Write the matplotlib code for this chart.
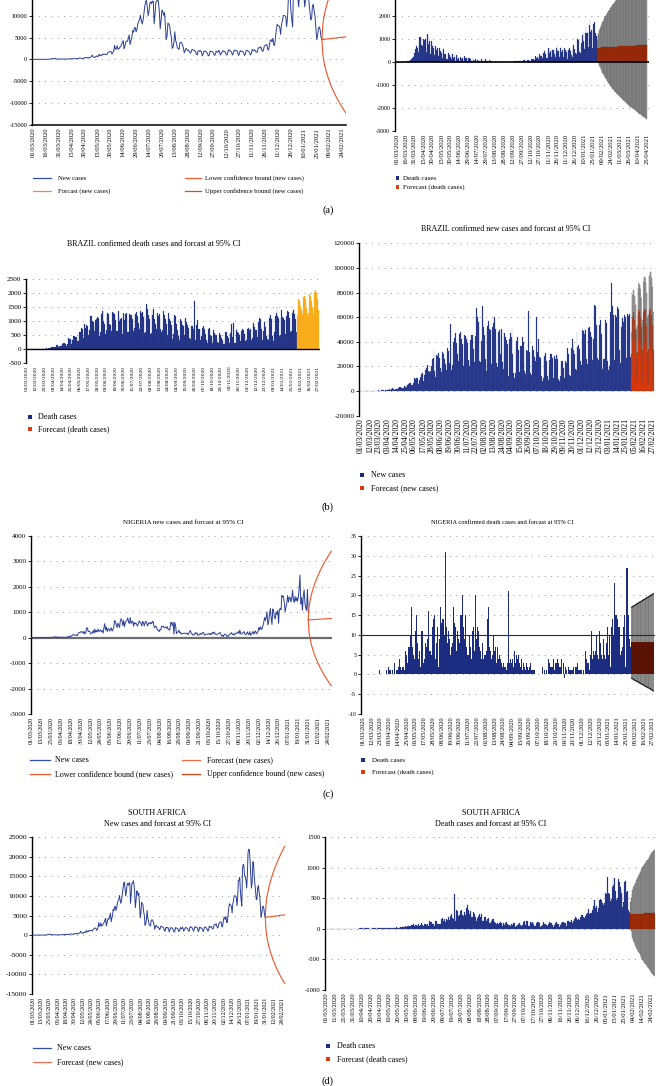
import datetime as dt
import numpy as np
import matplotlib
matplotlib.use("Agg")
import matplotlib.pyplot as plt
from matplotlib.lines import Line2D
from matplotlib.patches import Rectangle

plt.rcParams['font.family'] = ['Liberation Serif', 'DejaVu Serif']

START = dt.date(2020, 3, 1)

# ------------------------------------------------------------------ data
# South Africa daily new cases (panels a-left and d-left), 01/03/2020 .. 31/01/2021
sa_new_cases = [
    0, 0, 0, 0, 1, 1, 1,
    1, 3, 0, 6, 3, 3, 13,
    27, 11, 23, 30, 34, 48, 35,
    128, 152, 148, 155, 218, 243, 17,
    93, 71, 103, 82, 79, 83, 80,
    63, 69, 40, 62, 83, 96, 68,
    145, 99, 86, 178, 143, 99, 251,
    196, 124, 165, 201, 215, 318, 267,
    297, 183, 166, 354, 277, 385, 447,
    437, 267, 409, 424, 475, 663, 1000,
    595, 511, 426, 613, 818, 600, 740,
    1160, 767, 1000, 896, 1200, 1100, 1200,
    1200, 1050, 1100, 1500, 1600, 1800, 1800,
    1700, 1200, 1500, 1900, 3200, 2300, 2400,
    3100, 2300, 2400, 2700, 3000, 3300, 3800,
    4300, 2400, 3000, 4000, 4200, 4100, 4900,
    5600, 3400, 4300, 5000, 6600, 6200, 7200,
    7300, 6300, 6900, 8100, 8700, 9000, 10100,
    9000, 8100, 8800, 10300, 12000, 13100, 13500,
    12000, 10000, 11000, 12800, 13200, 12700, 13300,
    13300, 8100, 10300, 13100, 13200, 13900, 13000,
    11000, 7000, 8800, 11300, 11000, 10100, 10700,
    8000, 4500, 5400, 8300, 8100, 7700, 6000,
    5000, 2500, 2800, 3900, 6300, 4300, 3700,
    2600, 2500, 2300, 3800, 3900, 3800, 3300,
    2600, 1500, 2000, 2500, 2300, 2000, 2100,
    1800, 1400, 1700, 2300, 2200, 2100, 2000,
    1800, 1200, 1000, 1900, 2000, 1800, 2000,
    1600, 800, 1300, 1900, 1800, 1900, 1600,
    1300, 800, 900, 1900, 1800, 1800, 1700,
    1400, 900, 1100, 1900, 1700, 1600, 2100,
    1700, 1000, 1400, 1700, 2000, 1800, 1800,
    1500, 1000, 1100, 2000, 2200, 1900, 1900,
    1600, 1000, 1400, 2100, 2100, 1900, 2000,
    1600, 900, 1200, 2000, 1800, 1900, 1800,
    1500, 900, 1200, 2000, 2100, 1900, 1800,
    1500, 1000, 1300, 2300, 2000, 2100, 2200,
    1800, 1600, 1700, 2600, 2700, 2600, 2900,
    2200, 1800, 2100, 3000, 3200, 3300, 3400,
    2300, 2100, 3200, 4400, 4500, 4000, 4800,
    3300, 3200, 5000, 6700, 8000, 7700, 7700,
    7300, 5700, 8000, 8700, 10000, 10000, 10000,
    9700, 7500, 9500, 14000, 14000, 14700, 11000,
    9000, 7400, 17000, 18000, 17700, 15000, 15000,
    14000, 12000, 15000, 21000, 21900, 21600, 19000,
    15000, 12000, 13600, 18700, 18500, 15000, 13000,
    11000, 9000, 9300, 12200, 12600, 11000, 9800,
    7000, 4500, 5600, 7200, 7400, 6700, 5000,
    4500]
# forecast line and 95% bounds, 31/01/2021 .. 28/02/2021
sa_fc_line = [4500, 4560, 4580, 4600, 4630, 4650, 4670, 4690, 4710, 4730,
              4760, 4780, 4800, 4820, 4850, 4870, 4890, 4910, 4940, 4960,
              4980, 5000, 5030, 5050, 5070, 5100, 5120, 5150, 5170]
sa_fc_upper = [4500, 7860, 9250, 10320, 11230, 12030, 12750, 13420, 14040, 14630,
               15200, 15730, 16230, 16720, 17200, 17650, 18090, 18520, 18940, 19340,
               19740, 20120, 20510, 20880, 21240, 21600, 21950, 22300, 22630]
sa_fc_lower = [4500, 1260, -90, -1120, -1970, -2730, -3410, -4040, -4620, -5170,
               -5680, -6170, -6630, -7080, -7500, -7910, -8310, -8700, -9060, -9420,
               -9780, -10120, -10450, -10780, -11100, -11400, -11710, -12000, -12290]

# Panel (a) right: daily death cases and forecast to 25/04/2021
a_deaths = [
    0, 0, 0, 0, 0, 1, 0,
    1, 2, 1, 2, 1, 2, 10,
    14, 20, 16, 33, 40, 33, 56,
    48, 54, 87, 43, 115, 181, 260,
    209, 180, 381, 563, 569, 684, 708,
    621, 439, 786, 1100, 1000, 1080, 1050,
    737, 717, 778, 1000, 950, 960, 980,
    596, 449, 1170, 1200, 763, 1100, 900,
    413, 360, 900, 795, 674, 739, 621,
    315, 288, 693, 649, 539, 626, 346,
    268, 210, 627, 494, 428, 384, 468,
    170, 160, 545, 363, 338, 351, 282,
    118, 121, 134, 412, 377, 324, 215,
    113, 111, 324, 359, 176, 357, 204,
    77, 55, 286, 245, 151, 202, 181,
    36, 38, 233, 184, 135, 173, 128,
    43, 15, 280, 154, 149, 186, 100,
    36, 25, 155, 176, 89, 137, 67,
    22, 16, 155, 85, 66, 48, 148,
    21, 11, 138, 85, 63, 66, 40,
    40, 11, 110, 79, 53, 40, 31,
    14, 7, 119, 83, 38, 38, 40,
    8, 1, 89, 49, 18, 20, 50,
    5, 8, 16, 20, 12, 21, 22,
    4, 2, 12, 18, 6, 11, 1,
    2, 2, 12, 16, 12, 9, 12,
    1, 3, 3, 10, 14, 10, 12,
    2, 3, 2, 8, 14, 6, 9,
    5, 9, 27, 20, 21, 27, 27,
    18, 11, 37, 37, 40, 40, 34,
    17, 13, 71, 71, 66, 77, 49,
    33, 19, 76, 70, 77, 87, 65,
    65, 50, 143, 137, 138, 136, 150,
    67, 80, 241, 191, 189, 224, 174,
    151, 102, 367, 310, 280, 274, 326,
    162, 136, 397, 492, 378, 355, 413,
    156, 194, 532, 595, 563, 376, 462,
    168, 213, 598, 529, 501, 511, 341,
    398, 206, 608, 696, 498, 521, 479,
    215, 205, 603, 648, 414, 504, 397,
    231, 189, 616, 533, 516, 424, 519,
    144, 232, 506, 612, 532, 489, 534,
    326, 215, 691, 744, 574, 570, 410,
    316, 357, 414, 981, 964, 613, 445,
    454, 407, 830, 1041, 1162, 1325, 931,
    563, 529, 1243, 1564, 1248, 1280, 1295,
    671, 599, 1610, 1820, 1290, 1401, 1348,
    610, 592, 1631, 1725, 1239, 1245, 1200,
    1150]
a_deaths_fc = [
    620, 622, 623, 625, 626, 628, 629,
    631, 632, 634, 635, 637, 638, 640,
    641, 643, 644, 646, 647, 649, 650,
    652, 653, 655, 656, 658, 659, 661,
    662, 664, 665, 667, 668, 670, 671,
    673, 674, 676, 677, 679, 680, 682,
    683, 685, 686, 688, 689, 691, 692,
    694, 695, 697, 698, 700, 701, 703,
    704, 706, 707, 709, 710, 712, 713,
    715, 716, 718, 719, 721, 722, 724,
    725, 727, 728, 730, 731, 733, 734,
    736, 737, 739, 740, 742, 743, 745]
a_deaths_ci_half = [
    350, 495, 606, 700, 783, 857, 926,
    990, 1050, 1107, 1161, 1212, 1262, 1310,
    1356, 1400, 1443, 1485, 1526, 1565, 1604,
    1642, 1679, 1715, 1750, 1785, 1819, 1852,
    1885, 1917, 1949, 1980, 2011, 2041, 2071,
    2100, 2129, 2158, 2186, 2214, 2241, 2268,
    2295, 2321, 2348, 2374, 2399, 2425, 2450,
    2475, 2499, 2524, 2548, 2572, 2595, 2619,
    2642, 2665, 2688, 2711, 2734, 2756, 2778,
    2800, 2822, 2844, 2865, 2886, 2907, 2928,
    2949, 2970, 2990, 3011, 3031, 3051, 3071,
    3091, 3110, 3130, 3149, 3169, 3188, 3207]

# Brazil daily confirmed deaths
brazil_deaths = [
    0, 0, 0, 0, 0, 0, 0,
    0, 0, 0, 0, 0, 0, 0,
    0, 0, 1, 3, 4, 4, 7,
    7, 9, 12, 18, 20, 15, 22,
    22, 42, 39, 59, 61, 73, 60,
    80, 67, 133, 141, 115, 68, 99,
    105, 99, 204, 188, 217, 206, 188,
    113, 166, 165, 407, 357, 346, 357,
    189, 338, 474, 449, 435, 428, 421,
    275, 296, 600, 615, 610, 751, 730,
    496, 396, 881, 749, 844, 824, 816,
    485, 674, 1179, 888, 1188, 1001, 965,
    653, 807, 1039, 1086, 1156, 1124, 956,
    480, 623, 1262, 1349, 1473, 1005, 904,
    525, 679, 1272, 1274, 1239, 909, 843,
    612, 627, 1338, 1269, 1238, 1206, 1022,
    641, 654, 1374, 1185, 990, 1055, 1109,
    552, 692, 1280, 1038, 1252, 1290, 1091,
    602, 620, 1254, 1223, 1220, 1214, 1071,
    631, 733, 1300, 1233, 1322, 1163, 921,
    716, 632, 1367, 1284, 1311, 1156, 1211,
    555, 614, 1595, 1437, 1189, 1212, 1088,
    541, 561, 1394, 1226, 1437, 1079, 905,
    572, 703, 1274, 1175, 1262, 1060, 709,
    620, 684, 1352, 1212, 1204, 1054, 892,
    494, 555, 1271, 1085, 984, 855, 758,
    366, 553, 1215, 1184, 834, 907, 682,
    447, 310, 476, 1075, 983, 874, 814,
    415, 507, 1113, 967, 857, 829, 739,
    377, 363, 809, 869, 831, 729, 1700,
    335, 317, 863, 1031, 729, 732, 728,
    323, 447, 734, 819, 734, 703, 543,
    308, 201, 309, 715, 754, 486, 460,
    230, 271, 661, 566, 497, 488, 406,
    264, 231, 581, 510, 524, 394, 339,
    190, 178, 350, 602, 621, 455, 394,
    242, 212, 572, 908, 420, 480, 921,
    205, 216, 676, 754, 611, 569, 492,
    302, 263, 630, 698, 691, 525, 563,
    272, 312, 697, 755, 668, 694, 707,
    313, 388, 842, 936, 770, 672, 686,
    278, 433, 964, 1092, 1054, 797, 706,
    329, 637, 968, 1011, 796, 451, 344,
    333, 551, 1111, 1224, 1074, 462, 314,
    293, 620, 1171, 1274, 1524, 1186, 1100,
    469, 499, 1110, 1382, 1151, 1093, 1050,
    551, 452, 1183, 1340, 1316, 1096, 980,
    609, 627, 1283, 1386, 1439, 1254, 1086,
    595]
brazil_deaths_fc = [
    1200, 1750, 1800, 1700, 1550, 1400, 1150,
    1250, 1850, 1900, 1800, 1600, 1450, 1200,
    1300, 1950, 2000, 1900, 1700, 1500, 1250,
    1350, 2050, 2100, 2000, 1800, 1500, 1400]

# Brazil daily confirmed new cases
brazil_cases = [
    0, 0, 0, 0, 1, 4, 6,
    6, 6, 4, 3, 25, 25, 21,
    23, 79, 34, 57, 137, 193, 283,
    224, 418, 345, 310, 232, 482, 502,
    487, 352, 323, 1138, 1119, 1074, 1146,
    1222, 852, 926, 1661, 2210, 1930, 1781,
    1089, 1442, 1261, 1832, 3058, 2105, 3257,
    2917, 2055, 1927, 2498, 2678, 3735, 3503,
    5514, 3379, 4613, 5385, 6276, 7218, 6209,
    4970, 4588, 6633, 8536, 10503, 9888, 10222,
    10611, 6760, 5632, 9258, 11385, 13944, 15305,
    14919, 7938, 13140, 17408, 19951, 18508, 20803,
    16508, 15813, 11687, 16324, 20599, 26417, 26928,
    33274, 16409, 11598, 28936, 28633, 30925, 30830,
    27075, 18912, 15654, 32091, 32913, 30412, 25982,
    21704, 17110, 20647, 34918, 32188, 22765, 54771,
    34666, 17459, 21432, 39436, 42725, 39483, 46860,
    38693, 30476, 24052, 33846, 46712, 48105, 42223,
    37923, 26051, 20229, 45305, 44571, 42619, 45048,
    39023, 24831, 20286, 41857, 39924, 45403, 45403,
    34177, 23529, 20257, 44887, 67860, 59961, 55891,
    51147, 24578, 23284, 40816, 69074, 57837, 52383,
    45392, 25800, 16641, 51603, 53139, 57152, 50230,
    49970, 23010, 22048, 52160, 55155, 60091, 50644,
    41576, 23101, 19373, 47784, 49298, 45323, 30355,
    50032, 23421, 17988, 47161, 47134, 44235, 41350,
    38133, 16158, 12191, 42659, 46934, 43773, 50163,
    30168, 14279, 10273, 14521, 35816, 40557, 43718,
    33523, 15155, 10273, 36653, 36820, 43718, 39797,
    33057, 16389, 13439, 33536, 32817, 32445, 65000,
    31911, 14318, 13155, 32058, 36303, 33413, 27749,
    24062, 11844, 60000, 31553, 41906, 27444, 27651,
    26749, 12345, 8429, 10220, 27235, 28523, 30914,
    24062, 12342, 9000, 15783, 24818, 29787, 30026,
    26979, 13493, 10850, 28629, 26106, 29069, 30000,
    26000, 10100, 8400, 12000, 23000, 24000, 24000,
    19000, 10500, 8000, 24000, 23000, 35000, 30000,
    18000, 13000, 12000, 35000, 42000, 38000, 33000,
    30000, 18000, 17000, 48000, 36000, 37000, 34000,
    24000, 20000, 21000, 50000, 49000, 46000, 51000,
    50000, 26000, 22000, 51000, 53000, 52000, 48000,
    44000, 25000, 22000, 42000, 70000, 69000, 54000,
    50000, 27000, 25000, 54000, 58000, 46000, 21000,
    18000, 26000, 26000, 58000, 56000, 55000, 24000,
    17000, 20000, 56000, 64000, 87500, 69000, 62000,
    29000, 25000, 62000, 60000, 68000, 69000, 67000,
    33000, 23000, 52000, 61000, 59000, 56000, 62000,
    60000, 28000, 27000, 63000, 61000, 63000, 52000,
    28000]
brazil_cases_fc = [
    30000, 60000, 64000, 62000, 58000, 50000, 30000,
    32000, 62000, 66000, 64000, 60000, 52000, 31000,
    33000, 64000, 67000, 66000, 61000, 53000, 32000,
    34000, 65000, 68000, 67000, 62000, 54000, 33000]
brazil_cases_ci_half = [
    17000, 18000, 18500, 19000, 19500, 20000, 20500,
    21000, 21500, 22000, 22500, 23000, 23500, 24000,
    24500, 25000, 25500, 26000, 26500, 27000, 27500,
    28000, 28500, 29000, 29500, 30000, 30500, 31000]

# Nigeria daily new cases
nigeria_cases = [
    0, 0, 0, 0, 0, 0, 0,
    1, 0, 0, 0, 0, 0, 0,
    0, 0, 1, 0, 5, 0, 10,
    8, 9, 4, 14, 19, 16, 5,
    34, 36, 4, 36, 10, 25, 19,
    5, 22, 16, 20, 15, 13, 11,
    15, 20, 34, 35, 64, 51, 49,
    86, 117, 117, 108, 91, 114, 87,
    91, 195, 196, 204, 238, 220, 238,
    170, 245, 148, 195, 381, 386, 239,
    248, 242, 146, 184, 193, 288, 176,
    338, 216, 284, 226, 339, 245, 265,
    313, 229, 276, 182, 387, 553, 307,
    416, 241, 348, 350, 260, 328, 389,
    260, 315, 409, 681, 627, 501, 403,
    573, 490, 403, 681, 745, 661, 476,
    675, 436, 594, 649, 684, 779, 593,
    566, 790, 561, 626, 652, 454, 603,
    544, 575, 499, 460, 575, 664, 595,
    571, 463, 643, 595, 463, 600, 653,
    557, 463, 562, 591, 543, 600, 555,
    648, 624, 404, 410, 460, 386, 304,
    288, 243, 322, 304, 453, 437, 453,
    400, 401, 423, 375, 433, 329, 325,
    298, 593, 604, 476, 601, 138, 601,
    477, 160, 216, 228, 296, 190, 218,
    138, 164, 167, 176, 183, 159, 162,
    187, 118, 155, 239, 281, 188, 147,
    100, 130, 126, 201, 154, 194, 94,
    99, 126, 176, 126, 155, 213, 196,
    101, 118, 132, 143, 136, 153, 166,
    114, 173, 135, 213, 173, 225, 141,
    126, 118, 148, 160, 180, 208, 133,
    62, 93, 48, 130, 146, 119, 55,
    80, 51, 112, 148, 153, 203, 125,
    137, 100, 177, 152, 180, 194, 240,
    154, 300, 162, 141, 188, 193, 245,
    144, 120, 152, 232, 155, 117, 238,
    94, 165, 172, 246, 137, 224, 269,
    155, 183, 243, 400, 311, 434, 332,
    338, 475, 600, 796, 675, 799, 1021,
    502, 617, 930, 1145, 786, 519, 1133,
    1041, 775, 754, 1015, 911, 1071, 565,
    1120, 1140, 1103, 1664, 1598, 1633, 1354,
    1020, 1204, 1354, 1664, 1398, 1585, 1589,
    1410, 1526, 1870, 1479, 1387, 1622, 1442,
    1578, 1436, 1598, 1960, 2464, 1315, 1573,
    1080, 1635, 1883, 1360, 1166, 1080, 1900,
    1000]
nigeria_fc_line = [700, 702, 704, 706, 708, 710, 712, 714, 716, 718,
                   720, 722, 724, 726, 728, 730, 732, 734, 736, 738,
                   740, 742, 744, 746, 748, 750, 752, 754, 756]
nigeria_fc_upper = [700, 1202, 1411, 1572, 1708, 1828, 1937, 2037, 2130, 2218,
                    2301, 2380, 2456, 2529, 2599, 2666, 2732, 2796, 2857, 2917,
                    2976, 3033, 3089, 3144, 3197, 3250, 3302, 3352, 3402]
nigeria_fc_lower = [700, 202, -3, -160, -292, -408, -513, -609, -698, -782,
                    -861, -936, -1008, -1077, -1143, -1206, -1268, -1328, -1385, -1441,
                    -1496, -1549, -1601, -1652, -1701, -1750, -1798, -1844, -1890]

# Nigeria daily confirmed deaths
nigeria_deaths = [
    0, 0, 0, 0, 0, 0, 0,
    0, 0, 0, 0, 0, 0, 0,
    0, 0, 0, 0, 0, 0, 0,
    1, 0, 0, 0, 0, 0, 0,
    0, 1, 0, 0, 2, 1, 1,
    1, 0, 1, 0, 1, 3, 0,
    1, 1, 1, 2, 4, 2, 1,
    1, 2, 2, 1, 6, 3, 5,
    3, 7, 7, 10, 6, 17, 7,
    5, 4, 2, 11, 15, 8, 4,
    4, 6, 2, 9, 11, 8, 3,
    4, 8, 5, 7, 9, 16, 5,
    6, 1, 5, 12, 14, 5, 15,
    4, 8, 12, 11, 2, 9, 17,
    13, 12, 14, 14, 10, 19, 31,
    12, 8, 11, 7, 9, 5, 7,
    8, 4, 17, 13, 12, 6, 11,
    11, 9, 8, 15, 15, 15, 20,
    12, 9, 15, 7, 7, 5, 5,
    10, 7, 7, 4, 11, 8, 12,
    6, 20, 9, 5, 12, 11, 7,
    6, 4, 3, 8, 4, 5, 2,
    5, 6, 14, 17, 7, 4, 6,
    4, 3, 5, 10, 6, 7, 2,
    3, 7, 4, 5, 2, 4, 3,
    2, 3, 0, 2, 2, 1, 3,
    10, 21, 3, 4, 3, 4, 2,
    2, 6, 3, 5, 2, 4, 5,
    3, 2, 1, 4, 1, 3, 0,
    2, 1, 3, 2, 1, 0, 2,
    3, 1, 1, 0, 1, 1, 0,
    0, 0, 0, 0, 0, 0, 0,
    0, 2, 0, 1, 0, 0, 1,
    0, 4, 1, 3, 2, 0, 2,
    2, 4, 1, 2, 3, 2, 4,
    3, 0, 2, 1, 4, 0, 3,
    1, -1, 2, 1, 0, 0, 2,
    1, 1, 0, 1, 1, 2, 0,
    2, 1, 2, 3, 1, 0, 1,
    1, 1, 0, 1, 1, 0, 6,
    4, 2, 3, 3, 1, 5, 11,
    6, 4, 6, 5, 2, 6, 10,
    5, 4, 11, 10, 8, 5, 4,
    9, 6, 5, 4, 8, 12, 7,
    5, 10, 2, 12, 8, 14, 10,
    23, 8, 15, 15, 14, 8, 12,
    7, 5, 6, 4, 7, 12, 15,
    2, 21, 27, 7, 15, 9, 6,
    7]
nigeria_deaths_fc = [8.2, 8.2, 8.2, 8.2, 8.2, 8.2, 8.2, 8.2, 8.2, 8.2,
                     8.2, 8.2, 8.2, 8.2, 8.2, 8.2, 8.2, 8.2, 8.2, 8.2,
                     8.2, 8.2, 8.2, 8.2, 8.2, 8.2, 8.2, 8.2]
nigeria_deaths_upper = [17.0, 17.1, 17.3, 17.4, 17.5, 17.6, 17.8, 17.9, 18.0, 18.1,
                        18.3, 18.4, 18.5, 18.6, 18.8, 18.9, 19.0, 19.1, 19.3, 19.4,
                        19.5, 19.6, 19.8, 19.9, 20.0, 20.1, 20.3, 20.4]
nigeria_deaths_lower = [-1.0, -1.1, -1.2, -1.4, -1.5, -1.6, -1.7, -1.8, -1.9, -2.0,
                        -2.2, -2.3, -2.4, -2.5, -2.6, -2.7, -2.8, -3.0, -3.1, -3.2,
                        -3.3, -3.4, -3.5, -3.6, -3.8, -3.9, -4.0, -4.2]

# South Africa daily death cases
sa_deaths = [
    0, 0, 0, 0, 0, 0, 0,
    0, 0, 0, 0, 0, 0, 0,
    0, 0, 0, 0, 0, 0, 0,
    0, 0, 0, 0, 1, 1, 0,
    0, 2, 2, 4, 2, 0, 2,
    1, 0, 7, 6, 7, 7, 7,
    2, 5, 6, 7, 6, 7, 3,
    3, 8, 4, 11, 8, 10, 7,
    4, 6, 11, 10, 11, 13, 7,
    11, 11, 12, 9, 20, 8, 15,
    8, 13, 9, 17, 13, 14, 14,
    20, 27, 17, 20, 26, 21, 29,
    26, 32, 34, 35, 45, 37, 48,
    52, 42, 48, 38, 54, 55, 80,
    51, 57, 60, 51, 70, 82, 50,
    55, 90, 70, 46, 75, 78, 59,
    82, 79, 52, 128, 111, 111, 78,
    85, 40, 127, 135, 80, 74, 84,
    74, 80, 163, 182, 134, 160, 114,
    130, 155, 148, 192, 140, 209, 237,
    182, 152, 572, 219, 128, 315, 294,
    208, 218, 298, 307, 232, 213, 241,
    271, 225, 345, 388, 315, 249, 298,
    196, 192, 282, 215, 236, 185, 123,
    179, 214, 247, 197, 238, 127, 144,
    132, 188, 189, 135, 154, 176, 100,
    90, 125, 127, 165, 160, 113, 90,
    82, 94, 71, 88, 113, 100, 80,
    45, 89, 58, 89, 110, 81, 60,
    57, 50, 80, 73, 63, 95, 100,
    37, 50, 55, 80, 90, 75, 58,
    40, 63, 119, 132, 64, 123, 120,
    50, 52, 84, 117, 97, 112, 81,
    40, 40, 96, 112, 103, 88, 92,
    34, 47, 64, 112, 86, 74, 63,
    42, 56, 82, 105, 99, 93, 65,
    37, 58, 101, 106, 86, 77, 79,
    34, 55, 91, 105, 118, 93, 88,
    53, 78, 120, 127, 118, 107, 145,
    100, 120, 160, 190, 170, 174, 150,
    154, 148, 200, 232, 222, 185, 183,
    190, 210, 243, 263, 318, 237, 260,
    254, 315, 375, 465, 405, 342, 380,
    270, 345, 473, 492, 465, 415, 393,
    380, 425, 580, 570, 844, 590, 570,
    450, 480, 690, 830, 710, 830, 620,
    470, 500, 820, 770, 690, 590, 640,
    350, 430, 760, 780, 600, 620, 300,
    280]
sa_deaths_fc = [235, 236, 237, 238, 239, 240, 241, 242, 243, 244,
                245, 246, 247, 248, 249, 250, 251, 252, 253, 254,
                255, 256, 257, 258, 259, 260, 261, 262]
sa_deaths_ci_half = [195, 275, 337, 390, 436, 477, 515, 551, 584, 616,
                     646, 675, 702, 729, 755, 779, 803, 827, 849, 871,
                     893, 914, 934, 954, 974, 993, 1012, 1031]

# ------------------------------------------------------------------ style
NAVY = '#1c2c80'
NAVY_EDGE = '#3c4c9c'
BLUE_LINE = '#2a3f95'
RED_LINE = '#f05228'
GREY_CI = '#a4a4a4'
GREY_EDGE = '#5a5a5a'
GRID_LS = (0, (1, 6))

W, H = 656, 1086
fig = plt.figure(figsize=(W / 100, H / 100), dpi=100)


def add_ax(x0, x1, ytop, ybot):
    ax = fig.add_axes([x0 / W, 1 - ybot / H, (x1 - x0) / W, (ybot - ytop) / H])
    ax.set_facecolor('none')
    return ax


def date_label(d):
    return (START + dt.timedelta(days=int(d))).strftime('%d/%m/%Y')


def style(ax, xlim, ylim, yticks, xticks, xfs, yfs, bottom=False, label_max=None):
    ax.set_xlim(*xlim)
    ax.set_ylim(*ylim)
    for s in ('top', 'right'):
        ax.spines[s].set_visible(False)
    ax.spines['bottom'].set_visible(bottom)
    ax.spines['bottom'].set_linewidth(1.1)
    ax.spines['left'].set_linewidth(1.0)
    shown = [v for v in yticks if label_max is None or v <= label_max]
    ax.set_yticks(shown)
    ax.set_yticklabels([str(v) for v in shown], fontsize=yfs)
    ax.tick_params(axis='y', length=2.2, width=0.6, pad=1.2)
    ax.set_xticks(xticks)
    ax.set_xticklabels([date_label(d) for d in xticks], rotation=90, fontsize=xfs)
    ax.tick_params(axis='x', length=0, pad=2)
    for v in yticks:
        ax.axhline(v, color='#858585', lw=0.65, ls=GRID_LS, zorder=0)


def ftext(x, y, s, size, ha='left', va='center', **kw):
    fig.text(x / W, 1 - y / H, s, fontsize=size, ha=ha, va=va, **kw)


def leg_line(x0, x1, y, color, lw=0.9):
    fig.add_artist(Line2D([x0 / W, x1 / W], [1 - y / H, 1 - y / H], color=color, lw=lw,
                          transform=fig.transFigure))


def leg_square(x, y, size, color):
    fig.add_artist(Rectangle((x / W, 1 - (y + size / 2) / H), size / W, size / H,
                             color=color, transform=fig.transFigure, lw=0))


def obs_days(arr):
    return np.arange(len(arr))


def fc_days(arr, start):
    return np.arange(start, start + len(arr))


LAST = len(sa_new_cases) - 1  # index of 31/01/2021

# ------------------------------------------------------------------ (a) left
ax = add_ax(32, 346, -50, 125)
ax.plot(obs_days(sa_new_cases), sa_new_cases, color=BLUE_LINE, lw=0.7, zorder=3)
fd = fc_days(sa_fc_line, LAST)
ax.plot(fd, sa_fc_line, color=RED_LINE, lw=0.8, zorder=3)
ax.plot(fd, sa_fc_upper, color=RED_LINE, lw=0.8, zorder=3)
ax.plot(fd, sa_fc_lower, color=RED_LINE, lw=0.8, zorder=3)
style(ax, (-1, 364), (-15000, 25000), list(range(-15000, 25001, 5000)),
      list(range(0, 361, 15)), 4.7, 4.6, bottom=True, label_max=10000)

leg_line(33, 51, 178, '#3050a8')
ftext(58, 178, 'New cases', 4.8)
leg_line(33, 51, 191, '#f08060')
ftext(58, 191, 'Forcast (new cases)', 4.8)
leg_line(185, 201, 178, '#f06030')
ftext(205, 178, 'Lower confidence bound (new cases)', 4.8)
leg_line(185, 201, 191, '#e04818')
ftext(205, 191, 'Upper confidence bound (new cases)', 4.8)
ftext(328, 210, '(a)', 7.5, ha='center')

# ------------------------------------------------------------------ (a) right
ax = add_ax(395, 648.5, -30, 131)
ax.bar(obs_days(a_deaths), a_deaths, width=1.0, color=NAVY, edgecolor=NAVY_EDGE, lw=0.15, zorder=2)
fd = fc_days(a_deaths_fc, LAST + 1)
fc = np.array(a_deaths_fc, float)
hw = np.array(a_deaths_ci_half, float)
ax.bar(fd, 2 * hw, bottom=fc - hw, width=1.0, color=GREY_CI, edgecolor=GREY_EDGE, lw=0.25, zorder=2)
ax.bar(fd, fc, width=1.0, color='#a3300c', edgecolor='#7a2008', lw=0.15, zorder=3)
ax.axhline(0, color='black', lw=1.2, zorder=4)
style(ax, (-3, 423), (-3000, 4000), list(range(-3000, 4001, 1000)),
      list(range(0, 421, 15)), 4.8, 4.3, label_max=2000)
leg_square(395.5, 178, 3.5, NAVY)
ftext(403, 178, 'Death cases', 5)
leg_square(395.5, 187, 3.5, '#e03a10')
ftext(403, 187, 'Forecast (death cases)', 5)

# ------------------------------------------------------------------ (b) left
ax = add_ax(26, 320, 279, 363)
ax.bar(obs_days(brazil_deaths), brazil_deaths, width=1.0, color=NAVY, edgecolor=NAVY_EDGE, lw=0.15, zorder=2)
ax.bar(fc_days(brazil_deaths_fc, LAST + 1), brazil_deaths_fc, width=1.0, color='#f5a000',
       edgecolor='#ffc24a', lw=0.2, zorder=2)
ax.axhline(0, color='black', lw=1.0, zorder=4)
style(ax, (-1, 365.5), (-500, 2500), list(range(-500, 2501, 500)),
      list(range(0, 364, 11)), 3.9, 5.2)
ftext(154, 244, 'BRAZIL confirmed death cases and forcast at 95% CI', 5.8, ha='center')
leg_square(28, 417, 4.2, NAVY)
ftext(38, 417, 'Death cases', 5.9)
leg_square(28, 429, 4.2, '#e03a10')
ftext(38, 429, 'Forecast (death cases)', 5.9)
ftext(328, 507, '(b)', 7.5, ha='center')

# ------------------------------------------------------------------ (b) right
ax = add_ax(359, 654.5, 243.4, 415.6)
ax.bar(obs_days(brazil_cases), brazil_cases, width=1.0, color=NAVY, edgecolor='#4a5aa6', lw=0.15, zorder=2)
fd = fc_days(brazil_cases_fc, LAST + 1)
fc = np.array(brazil_cases_fc, float)
hw = np.array(brazil_cases_ci_half, float)
ax.bar(fd, hw, bottom=fc, width=1.0, color='#b8b8b8', lw=0, zorder=2)
ax.bar(fd, fc, width=1.0, color='#e23c0e', edgecolor='#c03008', lw=0.15, zorder=3)
ax.vlines(fd, fc - hw, fc + hw, color='#505050', lw=0.3, zorder=4)
ax.hlines(fc + hw, fd - 0.5, fd + 0.5, color='#505050', lw=0.3, zorder=4)
ax.hlines(fc - hw, fd - 0.5, fd + 0.5, color='#505050', lw=0.3, zorder=4)
style(ax, (-2.5, 365.5), (-20000, 120000), list(range(-20000, 120001, 20000)),
      list(range(0, 364, 11)), 5.6, 5.1)
ftext(506, 229, 'BRAZIL confirmed new cases and forcast at 95% CI', 5.8, ha='center')
leg_square(360, 475, 4.2, NAVY)
ftext(371, 475, 'New cases', 5.9)
leg_square(360, 488, 4.2, '#e03a10')
ftext(371, 488, 'Forecast (new cases)', 5.9)

# ------------------------------------------------------------------ (c) left
ax = add_ax(31, 331.7, 536, 714)
ax.plot(obs_days(nigeria_cases), nigeria_cases, color=BLUE_LINE, lw=0.7, zorder=3)
fd = fc_days(nigeria_fc_line, LAST)
ax.plot(fd, nigeria_fc_line, color=RED_LINE, lw=0.8, zorder=3)
ax.plot(fd, nigeria_fc_upper, color=RED_LINE, lw=0.8, zorder=3)
ax.plot(fd, nigeria_fc_lower, color=RED_LINE, lw=0.8, zorder=3)
ax.axhline(0, color='#6e6e6e', lw=1.6, zorder=2)
style(ax, (-0.5, 364.5), (-3000, 4000), list(range(-3000, 4001, 1000)),
      list(range(0, 361, 12)), 4.3, 5.0)
ftext(183, 522, 'NIGERIA new cases and forcast at 95% CI', 5.0, ha='center')
leg_line(30, 50, 760, '#3050a8')
ftext(55, 760, 'New cases', 5.7)
leg_line(182, 200, 760, '#f06a40')
ftext(207, 760, 'Forecast (new cases)', 5.7)
leg_line(30, 50, 774, '#f05a30')
ftext(55, 774, 'Lower confidence bound (new cases)', 5.7)
leg_line(182, 200, 774, '#e04818')
ftext(207, 774, 'Upper confidence bound (new cases)', 5.7)
ftext(328, 794, '(c)', 7.5, ha='center')

# ------------------------------------------------------------------ (c) right
ax = add_ax(361, 654.5, 536, 714)
ax.bar(obs_days(nigeria_deaths), nigeria_deaths, width=1.3, color=NAVY, lw=0, zorder=2)
fd = fc_days(nigeria_deaths_fc, LAST + 1)
lo = np.array(nigeria_deaths_lower, float)
up = np.array(nigeria_deaths_upper, float)
ax.bar(fd, up - lo, bottom=lo, width=1.0, color='#9a9a9a', lw=0, zorder=2)
ax.vlines(fd[::2], lo[::2], up[::2], color='#4a4a4a', lw=0.3, zorder=2.5)
ax.bar(fd, nigeria_deaths_fc, width=1.0, color='#5a1204', lw=0, zorder=3)
ax.plot(fd, up, color='#1a1a1a', lw=0.9, zorder=4)
ax.plot(fd, lo, color='#1a1a1a', lw=0.9, zorder=4)
ax.axhline(10, color='#2a2a2a', lw=0.8, zorder=4)
style(ax, (-2.5, 365.5), (-10, 35), list(range(-10, 36, 5)),
      list(range(0, 364, 11)), 4.6, 4.2)
ftext(502, 523, 'NIGERIA confirmed death cases and forcast at 95% CI', 4.6, ha='center')
leg_square(361, 760, 3.5, NAVY)
ftext(372, 760, 'Death cases', 5.0)
leg_square(361, 772, 3.5, '#e03a10')
ftext(372, 772, 'Forecast (death cases)', 5.0)

# ------------------------------------------------------------------ (d) left
ax = add_ax(32, 285, 837, 994)
ax.plot(obs_days(sa_new_cases), sa_new_cases, color=BLUE_LINE, lw=0.7, zorder=3)
fd = fc_days(sa_fc_line, LAST)
ax.plot(fd, sa_fc_line, color=RED_LINE, lw=0.8, zorder=3)
ax.plot(fd, sa_fc_upper, color=RED_LINE, lw=0.8, zorder=3)
ax.plot(fd, sa_fc_lower, color=RED_LINE, lw=0.8, zorder=3)
style(ax, (-1.5, 364.5), (-15000, 25000), list(range(-15000, 25001, 5000)),
      list(range(0, 361, 12)), 4.3, 5.4)
ftext(157, 813, 'SOUTH AFRICA', 5.9, ha='center')
ftext(157, 823.5, 'New cases and forcast at 95% CI', 5.9, ha='center')
leg_line(33, 51, 1048, '#3050a8')
ftext(57, 1048, 'New cases', 5.8)
leg_line(33, 51, 1062, '#f07050')
ftext(57, 1062, 'Forecast (new cases)', 5.8)
ftext(328, 1081, '(d)', 7.5, ha='center')

# ------------------------------------------------------------------ (d) right
ax = add_ax(325, 655, 837, 990)
ax.bar(obs_days(sa_deaths), sa_deaths, width=1.0, color=NAVY, edgecolor=NAVY_EDGE, lw=0.15, zorder=2)
fd = fc_days(sa_deaths_fc, LAST + 1)
fc = np.array(sa_deaths_fc, float)
hw = np.array(sa_deaths_ci_half, float)
ax.bar(fd, 2 * hw, bottom=fc - hw, width=1.0, color='#a8a8a8', edgecolor=GREY_EDGE, lw=0.25, zorder=2)
ax.bar(fd, fc, width=1.0, color='#a8300a', edgecolor='#7a2008', lw=0.15, zorder=3)
style(ax, (-1, 364.5), (-1000, 1500), list(range(-1000, 1501, 500)),
      list(range(0, 361, 10)), 4.7, 4.8)
ftext(491, 813, 'SOUTH AFRICA', 5.9, ha='center')
ftext(491, 823.5, 'Death cases and forcast at 95% CI', 5.9, ha='center')
leg_square(326, 1046, 3.8, NAVY)
ftext(337, 1046, 'Death cases', 5.8)
leg_square(326, 1059, 3.8, '#e03a10')
ftext(337, 1059, 'Forecast (death cases)', 5.8)

fig.savefig('out.png', dpi=100)
